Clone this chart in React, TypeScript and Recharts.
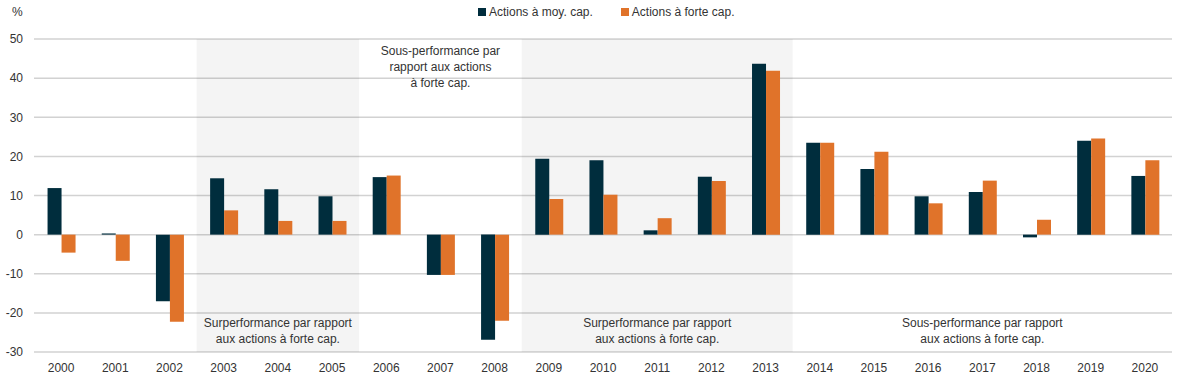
import React from 'react';
import { BarChart, Bar, XAxis, YAxis, CartesianGrid, ReferenceArea } from 'recharts';

const years = ['2000','2001','2002','2003','2004','2005','2006','2007','2008','2009','2010','2011','2012','2013','2014','2015','2016','2017','2018','2019','2020'];
const moyCap = [11.9, 0.3, -17.0, 14.4, 11.6, 9.8, 14.7, -10.3, -26.9, 19.4, 19.0, 1.1, 14.8, 43.7, 23.5, 16.8, 9.8, 10.9, -0.7, 24.0, 15.0];
const forteCap = [-4.6, -6.7, -22.3, 6.2, 3.5, 3.5, 15.1, -10.3, -22.0, 9.1, 10.2, 4.2, 13.7, 41.9, 23.5, 21.2, 8.0, 13.8, 3.8, 24.6, 19.0];
const yTicks = [-30, -20, -10, 0, 10, 20, 30, 40, 50];
const seriesNames = ['Actions à moy. cap.', 'Actions à forte cap.'];
const colors = ['#002d3d', '#e0732a'];

const surperf = ['Surperformance par rapport', 'aux actions à forte cap.'];
const sousperfTop = ['Sous-performance par', 'rapport aux actions', 'à forte cap.'];
const sousperfBottom = ['Sous-performance par rapport', 'aux actions à forte cap.'];

const data = years.map((y, i) => ({ year: y, moy: moyCap[i], forte: forteCap[i] }));

const FONT = '"Liberation Sans", Arial, sans-serif';

const makeLabel = (lines: string[], where: 'top' | 'bottom') => (props: any) => {
  const vb = props.viewBox || {};
  const cx = vb.x + vb.width / 2;
  const startY = where === 'top' ? vb.y + 16 : vb.y + vb.height - 9 - (lines.length - 1) * 16;
  return (
    <text x={cx} y={startY} textAnchor="middle" fontSize={12} fill="#333" fontFamily={FONT}>
      {lines.map((l, i) => (
        <tspan key={i} x={cx} dy={i === 0 ? 0 : 16}>{l}</tspan>
      ))}
    </text>
  );
};

export default function App() {
  return (
    <div style={{ position: 'relative', width: 1187, height: 376, fontFamily: FONT, background: '#fff' }}>
      <style>{`body{margin:0}`}</style>
      <div style={{ position: 'absolute', left: 12, top: 5, fontSize: 12, color: '#333' }}>%</div>
      <div style={{ position: 'absolute', left: 478, top: 5, fontSize: 12, color: '#333', display: 'flex', alignItems: 'center', whiteSpace: 'nowrap' }}>
        <span style={{ display: 'inline-block', width: 8, height: 8, background: colors[0], marginRight: 3 }} />
        <span>{seriesNames[0]}</span>
        <span style={{ display: 'inline-block', width: 8, height: 8, background: colors[1], marginLeft: 28, marginRight: 3 }} />
        <span>{seriesNames[1]}</span>
      </div>
      <BarChart width={1187} height={376} data={data} margin={{ top: 39, right: 15, bottom: 0, left: 0 }} barCategoryGap="25%" barGap={0}>
        <CartesianGrid vertical={false} stroke="#d2d2d2" strokeWidth={1.5} />
        <ReferenceArea x1="2003" x2="2005" y1={-30} y2={50} fill="#000000" fillOpacity={0.045} stroke="none" label={{ content: makeLabel(surperf, 'bottom') }} />
        <ReferenceArea x1="2009" x2="2013" y1={-30} y2={50} fill="#000000" fillOpacity={0.045} stroke="none" label={{ content: makeLabel(surperf, 'bottom') }} />
        <ReferenceArea x1="2006" x2="2008" y1={-30} y2={50} fill="none" fillOpacity={0} stroke="none" label={{ content: makeLabel(sousperfTop, 'top') }} />
        <ReferenceArea x1="2014" x2="2020" y1={-30} y2={50} fill="none" fillOpacity={0} stroke="none" label={{ content: makeLabel(sousperfBottom, 'bottom') }} />
        <XAxis dataKey="year" axisLine={false} tickLine={false} height={24} tickMargin={5} interval={0} tick={{ fontSize: 12, fill: '#333', fontFamily: FONT }} />
        <YAxis domain={[-30, 50]} ticks={yTicks} width={34} axisLine={false} tickLine={false} tickMargin={5} tick={{ fontSize: 12, fill: '#333', fontFamily: FONT }} />
        <Bar dataKey="moy" name={seriesNames[0]} fill={colors[0]} isAnimationActive={false} />
        <Bar dataKey="forte" name={seriesNames[1]} fill={colors[1]} isAnimationActive={false} />
      </BarChart>
    </div>
  );
}
